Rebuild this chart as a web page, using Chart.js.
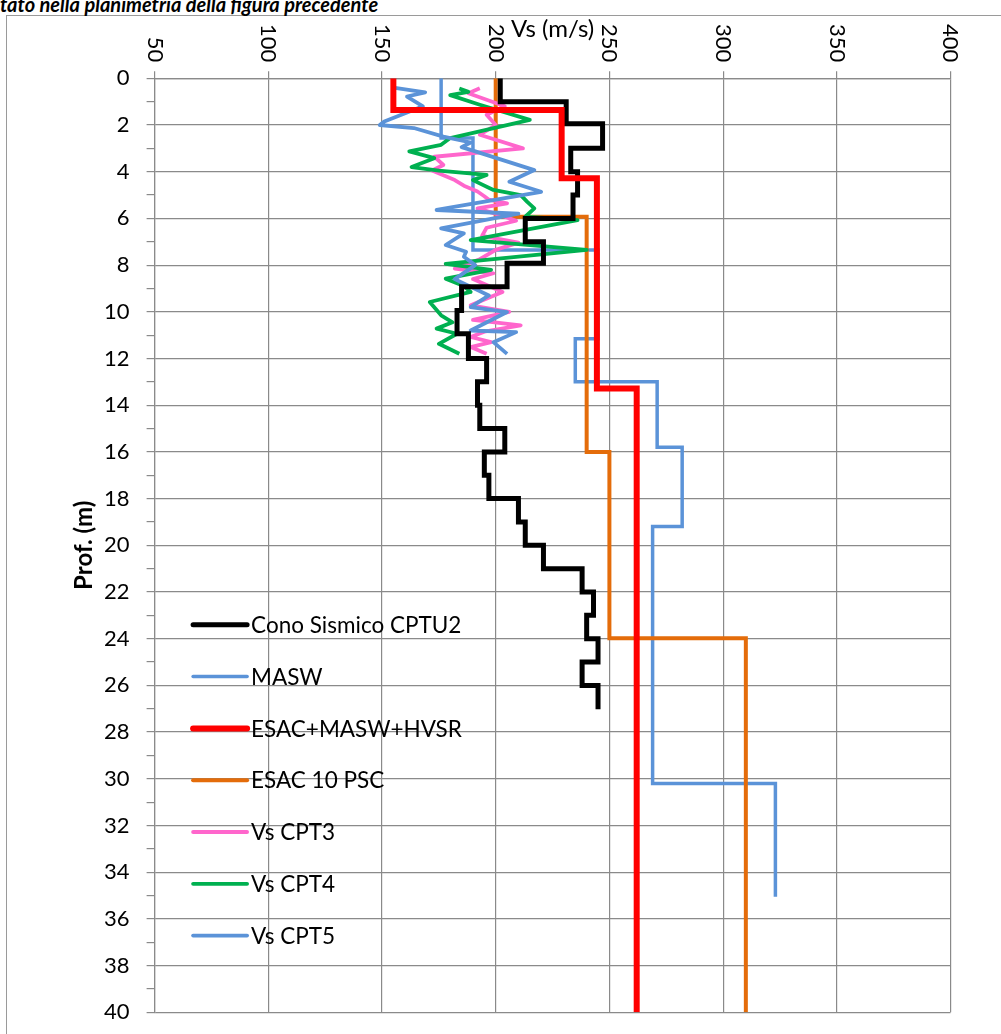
<!DOCTYPE html>
<html>
<head>
<meta charset="utf-8">
<script src="https://cdn.jsdelivr.net/npm/chart.js@4.4.0/dist/chart.umd.min.js"></script>
<style>
  html, body { margin: 0; padding: 0; background: #fff; }
  body { width: 1001px; height: 1034px; position: relative; overflow: hidden; }
  #frame { position: absolute; left: 6px; top: 15px; width: 1100px; height: 1100px; border: 1px solid #9a9a9a; box-sizing: border-box; }
  #caption { position: absolute; left: 0; top: -8px; font: italic bold 20px Lato, sans-serif; color: #000; white-space: nowrap; }
  #wrap { position: absolute; left: 0; top: 0; width: 1001px; height: 1034px; }
</style>
</head>
<body>
<div id="frame"></div>
<div id="caption">tato nella planimetria della figura precedente</div>
<div id="wrap"><canvas id="chart"></canvas></div>
<script>
// Vs tick labels along the top axis
const vsTicks = [50, 100, 150, 200, 250, 300, 350, 400];

// Cono Sismico CPTU2: layer tops (m) and Vs (m/s)
const cptu2Top = [0, 1, 1.95, 3, 4, 5, 6, 7, 7.92, 8.93, 9.94, 10.94, 12, 13, 14, 15, 16, 17, 18, 19, 20, 21, 22, 23, 24, 25, 26];
const cptu2Vs = [202, 231, 247, 233, 236, 234, 213, 221, 205, 185, 183, 188, 196, 192, 193, 204, 195, 197, 210, 213, 221, 238, 243, 240, 245, 238, 245];
const cptu2Bottom = 27.02;

// MASW
const maswTop = [0, 2.56, 7.35, 11.15, 13.0, 15.8, 19.2, 30.2];
const maswVs = [176, 190, 245, 235, 271, 282, 269, 323];
const maswBottom = 35.05;

// ESAC+MASW+HVSR
const esacTop = [0, 1.36, 4.28, 13.28];
const esacVs = [155, 229, 244.5, 262];
const esacBottom = 40;

// ESAC 10 PSC
const pscTop = [0, 5.93, 16, 23.98];
const pscVs = [200, 240, 250, 310];
const pscBottom = 40;

// Vs CPT3
const cpt3Depth = [0.43, 0.64, 1.2, 1.56, 2.0, 2.42, 3.0, 3.36, 3.71, 3.95, 4.36, 4.6, 4.85, 5.05, 5.2, 5.36, 5.57, 5.86, 6.1, 6.4, 6.75, 7.04, 7.35, 7.75, 8.15, 8.35, 8.6, 9.15, 9.72, 10.0, 10.35, 10.58, 10.85, 11.08, 11.3, 11.51, 11.8];
const cpt3Vs = [193, 188, 204, 196, 200, 193, 212, 173, 177, 172, 182, 186, 192, 195, 197, 205, 192, 202, 209, 196, 194, 210, 200, 193, 182, 199, 190, 203, 189, 206, 190, 211, 195, 189, 198, 189, 196];

// Vs CPT4
const cpt4Depth = [0.44, 0.58, 0.72, 1.13, 1.78, 2.56, 2.85, 3.13, 3.42, 3.8, 3.95, 4.14, 4.36, 4.78, 5.0, 5.3, 5.57, 5.93, 6.07, 6.93, 7.35, 7.95, 8.2, 8.58, 8.9, 9.15, 9.58, 10.15, 10.45, 10.72, 10.94, 11.37, 11.8];
const cpt4Vs = [184, 188, 180, 193, 215, 180, 176, 162, 173, 163, 175, 196, 190, 199, 211, 214, 217, 213, 236, 189, 240, 178, 198, 178, 186, 189, 171, 176, 181, 174, 183, 175, 184];

// Vs CPT5
const cpt5Depth = [0.4, 0.6, 0.78, 1.2, 1.85, 2.0, 2.13, 2.5, 2.75, 2.95, 3.1, 3.93, 4.43, 4.86, 5.64, 5.8, 6.43, 6.64, 7.14, 7.43, 7.64, 8.0, 8.6, 9.3, 9.8, 10.01, 10.8, 10.87, 11.3, 11.8];
const cpt5Vs = [155, 169, 161, 168, 151, 149, 164, 177, 189, 185, 190, 217, 206, 220, 174, 210, 176, 186, 178, 187, 186, 191, 182, 197, 189, 205, 189, 209, 199, 205];

const FONT = 'Lato';
const GRID = '#8a8a8a';

function steps(tops, vs, bottom) {
    const pts = [];
    tops.forEach((t, i) => {
        const b = i < tops.length - 1 ? tops[i + 1] : bottom;
        pts.push({ x: vs[i], y: t }, { x: vs[i], y: b });
    });
    return pts;
}

function profile(depth, vs) {
    return depth.map((d, i) => ({ x: vs[i], y: d }));
}

function line(label, data, color, width, order, join) {
    return {
        label: label,
        data: data,
        borderColor: color,
        backgroundColor: color,
        borderWidth: width,
        borderJoinStyle: join || 'miter',
        pointRadius: 0,
        showLine: true,
        tension: 0,
        fill: false,
        order: order
    };
}

// rotated Vs labels on top (reading downwards)
const topLabels = {
    id: 'topLabels',
    afterDraw(chart) {
        const { ctx } = chart;
        const x = chart.scales.x;
        ctx.save();
        ctx.font = '22px ' + FONT;
        ctx.fillStyle = '#000';
        ctx.textAlign = 'right';
        ctx.textBaseline = 'middle';
        vsTicks.forEach(v => {
            ctx.save();
            ctx.translate(x.getPixelForValue(v), x.bottom - 16);
            ctx.rotate(Math.PI / 2);
            ctx.fillText(String(v), 0, 0);
            ctx.restore();
        });
        ctx.restore();
    }
};

// legend drawn inside the plot, lower left
const plotLegend = {
    id: 'plotLegend',
    afterDraw(chart) {
        const { ctx, chartArea } = chart;
        const x0 = chartArea.left + 38.5;
        const y0 = chartArea.top + 546.5;
        ctx.save();
        ctx.font = '22.5px ' + FONT;
        ctx.fillStyle = '#000';
        ctx.textAlign = 'left';
        ctx.textBaseline = 'middle';
        ctx.lineCap = 'round';
        chart.data.datasets.forEach((ds, i) => {
            const y = y0 + i * 51.8;
            ctx.strokeStyle = ds.borderColor;
            ctx.lineWidth = ds.borderWidth;
            ctx.beginPath();
            ctx.moveTo(x0, y);
            ctx.lineTo(x0 + 54, y);
            ctx.stroke();
            ctx.fillText(ds.label, x0 + 58, y + 1);
        });
        ctx.restore();
    }
};

new Chart(document.getElementById('chart'), {
    type: 'scatter',
    data: {
        datasets: [
            line('Cono Sismico CPTU2', steps(cptu2Top, cptu2Vs, cptu2Bottom), '#000000', 5, 1),
            line('MASW', steps(maswTop, maswVs, maswBottom), '#5b93d8', 3.5, 6),
            line('ESAC+MASW+HVSR', steps(esacTop, esacVs, esacBottom), '#ff0000', 6, 0),
            line('ESAC 10 PSC', steps(pscTop, pscVs, pscBottom), '#e46c0a', 4, 5),
            line('Vs CPT3', profile(cpt3Depth, cpt3Vs), '#ff66cc', 3.8, 4, 'round'),
            line('Vs CPT4', profile(cpt4Depth, cpt4Vs), '#00b050', 3.8, 3, 'round'),
            line('Vs CPT5', profile(cpt5Depth, cpt5Vs), '#5b93d8', 3.8, 2, 'round')
        ]
    },
    options: {
        responsive: true,
        maintainAspectRatio: false,
        animation: false,
        events: [],
        layout: { padding: { top: 0, left: 0, right: 50.5, bottom: 21.7 } },
        plugins: {
            legend: { display: false },
            tooltip: { enabled: false }
        },
        scales: {
            x: {
                type: 'linear',
                position: 'top',
                min: 50,
                max: 400,
                afterFit: s => { s.height = 78.3; s.paddingLeft = 0; s.paddingRight = 0; },
                ticks: { stepSize: 50, display: false },
                grid: { color: GRID, tickColor: GRID, tickLength: 7, lineWidth: 1.2 },
                border: { color: GRID, width: 1.2 },
                title: { display: true, text: 'Vs (m/s)', color: '#000', font: { family: FONT, size: 24 }, padding: { top: 15, bottom: 0 } }
            },
            y: {
                type: 'linear',
                reverse: true,
                min: 0,
                max: 40,
                afterFit: s => { s.width = 154.6; s.paddingTop = 0; s.paddingBottom = 0; },
                ticks: {
                    stepSize: 1,
                    autoSkip: false,
                    padding: 17,
                    color: '#000',
                    font: { family: FONT, size: 22 },
                    callback: v => (v % 2 === 0 ? v : '')
                },
                grid: {
                    color: c => (c.tick && c.tick.value % 2 === 0 ? GRID : 'rgba(0,0,0,0)'),
                    tickColor: GRID,
                    tickLength: 8,
                    lineWidth: 1.2
                },
                border: { color: GRID, width: 1.2 },
                title: { display: true, text: 'Prof. (m)', color: '#000', font: { family: FONT, size: 24, weight: 'bold' }, padding: { top: 70, bottom: 0 } }
            }
        }
    },
    plugins: [topLabels, plotLegend]
});
</script>
</body>
</html>
